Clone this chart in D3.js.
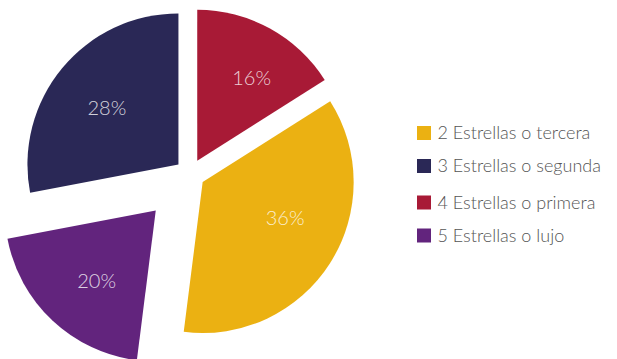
<!DOCTYPE html>
<html>
<head>
<meta charset="utf-8">
<script src="https://cdn.jsdelivr.net/npm/d3@7/dist/d3.min.js"></script>
<style>
  html, body { margin: 0; padding: 0; background: #ffffff; }
  svg { display: block; }
</style>
</head>
<body>
<svg id="chart" width="617" height="359"></svg>
<script>
// Hotel categories and their share of establishments
const categories = ["4 Estrellas o primera", "2 Estrellas o tercera", "5 Estrellas o lujo", "3 Estrellas o segunda"];
const shares = [16, 36, 20, 28];
const sliceColors = ["#A81A36", "#EBB112", "#62247D", "#2A2856"];
const explodeBy = [15, 15, 50, 15];
// Label placement per slice: angular tweak (degrees) and distance from slice tip
const labelTurn = [4.5, -8.8, -3.2, -1.5];
const labelDist = [99, 90, 92, 91];

// Legend order
const legendItems = ["2 Estrellas o tercera", "3 Estrellas o segunda", "4 Estrellas o primera", "5 Estrellas o lujo"];
const legendRowY = [133, 166, 202.5, 235.5];

const svg = d3.select("#chart");
const cx = 190, cy = 174, radius = 151;

const color = d3.scaleOrdinal().domain(categories).range(sliceColors);

const pie = d3.pie().sort(null).value(d => d.value);
const arcs = pie(categories.map((c, i) => ({
  name: c, value: shares[i], explode: explodeBy[i], turn: labelTurn[i], dist: labelDist[i]
})));

const arc = d3.arc().innerRadius(0).outerRadius(radius);

const g = svg.append("g").attr("transform", `translate(${cx},${cy})`);

const slice = g.selectAll("g.slice")
  .data(arcs)
  .join("g")
  .attr("class", "slice")
  .attr("transform", d => {
    const a = (d.startAngle + d.endAngle) / 2;
    return `translate(${Math.sin(a) * d.data.explode},${-Math.cos(a) * d.data.explode})`;
  });

slice.append("path")
  .attr("d", arc)
  .attr("fill", d => color(d.data.name));

// Percentage labels inside each slice
slice.append("text")
  .attr("transform", d => {
    const a = (d.startAngle + d.endAngle) / 2 + d.data.turn * Math.PI / 180;
    return `translate(${Math.sin(a) * d.data.dist},${-Math.cos(a) * d.data.dist})`;
  })
  .attr("text-anchor", "middle")
  .attr("dy", "0.36em")
  .attr("font-family", "Lato, sans-serif")
  .attr("font-weight", 300)
  .attr("font-size", 20)
  .attr("fill", "rgba(255,255,255,0.8)")
  .text(d => d.data.value + "%");

// Legend
const legend = svg.append("g").attr("transform", "translate(417,0)");
const rows = legend.selectAll("g.row")
  .data(legendItems)
  .join("g")
  .attr("class", "row")
  .attr("transform", (d, i) => `translate(0,${legendRowY[i]})`);

rows.append("rect")
  .attr("x", 0).attr("y", -7)
  .attr("width", 14).attr("height", 14)
  .attr("fill", d => color(d));

rows.append("text")
  .attr("x", 20.5)
  .attr("dy", "0.36em")
  .attr("font-family", "Lato, sans-serif")
  .attr("font-weight", 300)
  .attr("font-size", 18)
  .attr("fill", "#555555")
  .text(d => d);
</script>
</body>
</html>
